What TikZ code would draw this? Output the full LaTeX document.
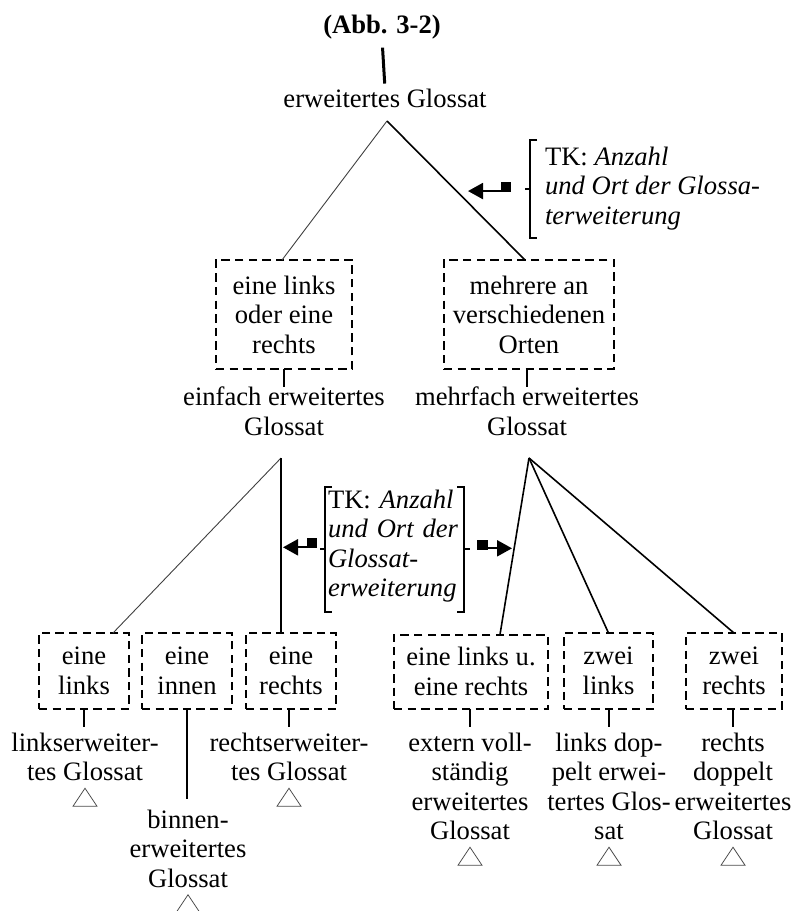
\documentclass[tikz,border=0pt]{standalone}
\usepackage{fontspec}
\setmainfont{Liberation Serif}
\usetikzlibrary{calc,arrows.meta}
\newcommand{\txtfont}{\fontsize{13.3pt}{14.75pt}\selectfont}
\begin{document}
\begin{tikzpicture}[x=0.5pt,y=-0.5pt,
  txt/.style={inner sep=0pt, outer sep=0pt, align=center, font=\txtfont},
  choice/.style={txt, draw, line width=1pt, dash pattern=on 4.2pt off 2.6pt},
  stem/.style={line width=1.4pt},
  thinedge/.style={line width=0.45pt, black!75},
  edge/.style={line width=0.8pt},
  brk/.style={line width=0.9pt},
  tkarrow/.style={line width=1.1pt, -{Triangle[length=7.5pt,width=8pt]}},
  roof/.style={line width=0.4pt, black!70},
]
\useasboundingbox (0,0) rectangle (792,911);

% ---- root ----
\node[txt, font=\txtfont\bfseries, anchor=base] (title) at (382,33) {(Abb. 3-2)};
\node[txt, anchor=base] (root) at (385,107) {erweitertes Glossat};
\draw[line width=1.5pt, shorten <=4.5pt, shorten >=2.5pt] (title.south) -- (root.north);
\coordinate (rootfork) at (387,121);

% ---- first choice ----
\node[choice, minimum width=68pt, minimum height=54.5pt] (c1) at (284,314.5) {eine links\\oder eine\\rechts};
\node[choice, minimum width=85pt, minimum height=54.5pt] (c2) at (529,314.5) {mehrere an\\verschiedenen\\Orten};
\draw[thinedge] (rootfork) -- ([xshift=-1pt]c1.north);
\draw[edge] (rootfork) -- ([xshift=-2pt]c2.north);

% criterion 1
\node[txt, align=left, anchor=north west] (tk1) at (545,147)
  {TK: \textit{Anzahl}\\\textit{und Ort der Glossa-}\\\textit{terweiterung}};
\coordinate (tk1a) at ($(tk1.north west)+(-15,-7)$);
\coordinate (tk1b) at ($(tk1.south west)+(-15,8)$);
\draw[brk] ($(tk1a)+(7,0)$) -- (tk1a) -- (tk1b) -- ($(tk1b)+(7,0)$);
\coordinate (tk1m) at ($(tk1a)!0.5!(tk1b)$);
\draw[brk] (tk1m) -- ++(-5,0);
\fill ($(tk1m)+(-29,-7)$) rectangle ($(tk1m)+(-19,3)$);
\draw[tkarrow] ($(tk1m)+(-28,2)$) -- ($(tk1m)+(-62,2)$);

% ---- second level categories ----
\node[txt, anchor=north] (l1) at (284,387) {einfach erweitertes\\Glossat};
\node[txt, anchor=north] (l2) at (527,387) {mehrfach erweitertes\\Glossat};
\draw[stem] (c1.south) -- (c1.south |- l1.north);
\draw[stem] (l2.north |- c2.south) -- (l2.north);
\coordinate (f1) at (281,458);
\coordinate (f2) at (529,458);

% ---- second choice ----
\node[choice, minimum width=45pt, minimum height=38pt] (b1) at (84,671) {eine\\links};
\node[choice, minimum width=45pt, minimum height=38pt] (b2) at (187,671) {eine\\innen};
\node[choice, minimum width=45pt, minimum height=38pt] (b3) at (291,671) {eine\\rechts};
\node[choice, minimum width=77pt, minimum height=37pt] (b4) at (471,671.5) {eine links u.\\eine rechts};
\node[choice, minimum width=44.5pt, minimum height=38pt] (b5) at (608.5,671) {zwei\\links};
\node[choice, minimum width=48pt, minimum height=38pt] (b6) at (734,671) {zwei\\rechts};

\draw[thinedge] (f1) -- ([xshift=14.5pt]b1.north);
\draw[stem] (f1) -- (f1 |- b3.north);
\draw[edge] (f2) -- ([xshift=14.5pt]b4.north);
\draw[edge] (f2) -- (b5.north);
\draw[edge] (f2) -- (b6.north);

% criterion 2
\node[txt, align=left, text width=65.5pt, anchor=north west] (tk2) at (328,490)
  {TK: \textit{Anzahl}\\\textit{und Ort der}\\\textit{Glossat-}\\\textit{erweiterung}};
\coordinate (tk2a) at ($(tk2.north west)+(-3,-3)$);
\coordinate (tk2b) at ($(tk2.south west)+(-3,9)$);
\coordinate (tk2c) at ($(tk2.north east)+(5,-3)$);
\coordinate (tk2d) at ($(tk2.south east)+(5,9)$);
\draw[brk] ($(tk2a)+(7,0)$) -- (tk2a) -- (tk2b) -- ($(tk2b)+(7,0)$);
\draw[brk] ($(tk2c)+(-7,0)$) -- (tk2c) -- (tk2d) -- ($(tk2d)+(-7,0)$);
\coordinate (tk2l) at ($(tk2a)!0.5!(tk2b)$);
\coordinate (tk2r) at ($(tk2c)!0.5!(tk2d)$);
\draw[brk] (tk2l) -- ++(-5,0);
\draw[brk] (tk2r) -- ++(6,0);
\fill ($(tk2l)+(-18,-11)$) rectangle ($(tk2l)+(-8,-1)$);
\draw[tkarrow] ($(tk2l)+(-17,-2)$) -- ($(tk2l)+(-42,-2)$);
\fill ($(tk2r)+(13,-9)$) rectangle ($(tk2r)+(24,1)$);
\draw[tkarrow] ($(tk2r)+(23,-1)$) -- ($(tk2r)+(48,-1)$);

% ---- leaves ----
\node[txt, anchor=north] (t1) at (85,733) {linkserweiter-\\tes Glossat};
\node[txt, anchor=north] (t2) at (188,810) {binnen-\\erweitertes\\Glossat};
\node[txt, anchor=north] (t3) at (289,733) {rechtserweiter-\\tes Glossat};
\node[txt, anchor=north] (t4) at (470,733) {extern voll-\\ständig\\erweitertes\\Glossat};
\node[txt, anchor=north] (t5) at (609,733) {links dop-\\pelt erwei-\\tertes Glos-\\sat};
\node[txt, anchor=north] (t6) at (733,733) {rechts\\doppelt\\erweitertes\\Glossat};

\draw[stem, shorten >=3pt] (b1.south) -- (b1.south |- t1.north);
\draw[stem, shorten >=5.5pt] (b2.south) -- (b2.south |- t2.north);
\draw[stem, shorten >=3pt] (t3.north |- b3.south) -- (t3.north);
\draw[stem, shorten >=3pt] (t4.north |- b4.south) -- (t4.north);
\draw[stem, shorten >=3pt] (t5.north |- b5.south) -- (t5.north);
\draw[stem, shorten >=3pt] (t6.north |- b6.south) -- (t6.north);

\foreach \t in {t1,t2,t3,t4,t5,t6}
  \draw[roof] ($(\t.south)+(0,7)$) -- ++(-12,18) -- ++(24,0) -- cycle;
\end{tikzpicture}
\end{document}
